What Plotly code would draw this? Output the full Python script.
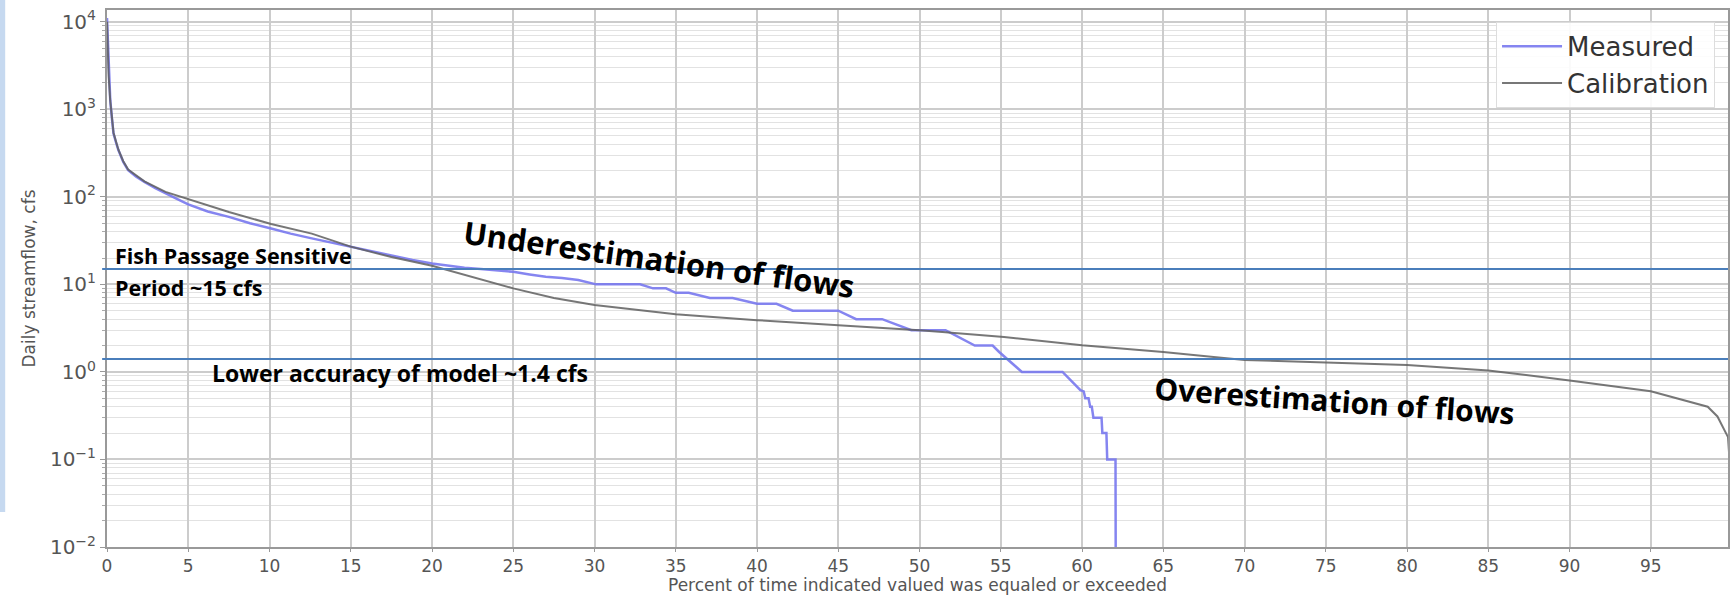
import plotly.graph_objects as go

# Flow-duration data: percent of time exceeded vs daily streamflow (cfs)
pct_measured = [0, 0.05, 0.1, 0.2, 0.3, 0.4, 0.55, 0.7, 1.0, 1.3, 1.8, 2.3, 3.0, 3.6,
                4.3, 5.0, 6.2, 7.5, 8.8, 10.1, 11.3, 12.6, 13.8, 15.0, 16.3, 17.5, 18.8,
                20.0, 21.0, 22.0, 23.0, 24.0, 25.0, 26.0, 27.0, 28.0, 29.0, 30.1, 32.8,
                33.6, 34.4, 35.0, 35.8, 37.1, 38.5, 40.0, 41.2, 42.2, 45.0, 46.1, 47.7,
                49.5, 51.6, 53.4, 54.5, 54.9, 55.9, 56.3, 58.8, 59.4, 59.9, 60.1, 60.2,
                60.4, 60.5, 60.6, 60.7, 61.2, 61.25, 61.5, 61.55, 62.06, 62.07]
flow_measured = [11000, 6000, 2500, 1270, 800, 530, 420, 342, 250, 202, 170, 148, 125, 109,
                 95, 82, 68, 59, 50, 43.5, 38, 33.5, 30, 26.8, 23.5, 21, 19,
                 17.3, 16.3, 15.5, 15, 14.5, 13.9, 13, 12.2, 11.8, 11.2, 10, 10,
                 9, 9, 8, 8, 7, 7, 6, 6, 5, 5, 4, 4,
                 3, 3, 2, 2, 1.69, 1.14, 1, 1, 0.77, 0.62, 0.6, 0.5,
                 0.5, 0.4, 0.4, 0.3, 0.3, 0.2, 0.2, 0.1, 0.1, 0.01]

pct_calibration = [0, 0.05, 0.1, 0.2, 0.4, 0.7, 1.0, 1.3, 2.3, 3.6, 5.0, 7.5, 10.1, 12.6,
                   15.0, 17.5, 20.0, 22.5, 25.0, 27.5, 30.0, 35.0, 40.0, 45.0, 48.7, 50.0,
                   51.4, 55.2, 60.0, 65.0, 68.1, 70, 75, 80, 85, 90, 95, 98.5, 99.1,
                   99.75, 99.95]
flow_calibration = [10000, 5000, 2400, 1250, 540, 345, 255, 205, 150, 114, 94, 67, 49, 38,
                    27, 20.5, 16.3, 12, 9.0, 7.0, 5.8, 4.56, 3.9, 3.42, 3.15, 3.0,
                    2.86, 2.51, 2.02, 1.69, 1.48, 1.37, 1.28, 1.20, 1.04, 0.80, 0.60, 0.40, 0.31,
                    0.18, 0.05]

x_tick_vals = [0, 5, 10, 15, 20, 25, 30, 35, 40, 45, 50, 55, 60, 65, 70, 75, 80, 85, 90, 95]
y_tick_vals = [0.01, 0.1, 1, 10, 100, 1000, 10000]
y_tick_text = ["10<sup>−2</sup>", "10<sup>−1</sup>", "10<sup>0</sup>", "10<sup>1</sup>",
               "10<sup>2</sup>", "10<sup>3</sup>", "10<sup>4</sup>"]

# Reference flow thresholds (cfs)
fish_passage_cfs = 15
low_accuracy_cfs = 1.4

GREY_TEXT = "#555555"
NOTE_FONT = "'Open Sans', Lato, sans-serif"

fig = go.Figure()
fig.add_trace(go.Scatter(
    x=pct_measured, y=flow_measured, mode="lines", name="Measured",
    legendgroup="m", line=dict(color="rgba(120,120,238,0.9)", width=2.5),
))
fig.add_trace(go.Scatter(
    x=pct_calibration, y=flow_calibration, mode="lines", name="Calibration",
    legendgroup="c", line=dict(color="rgba(95,95,95,0.85)", width=2),
))

# Threshold lines
for level in (fish_passage_cfs, low_accuracy_cfs):
    fig.add_shape(type="line", xref="paper", yref="y", x0=-0.003, x1=1.0,
                  y0=level, y1=level, line=dict(color="#4a7ebb", width=2), layer="above")

# Slide accent strip on the far left
fig.add_shape(type="rect", xref="paper", yref="paper", x0=-0.066, x1=-0.0628,
              y0=0.065, y1=1.02, fillcolor="#c6d9f0", line=dict(width=0), layer="above")

notes = [
    dict(text="<b>Fish Passage Sensitive</b>", x=0.0037, y=0.542, size=21.5, angle=0, xa="left"),
    dict(text="<b>Period ~15 cfs</b>", x=0.0037, y=0.484, size=21.5, angle=0, xa="left"),
    dict(text="<b>Lower accuracy of model ~1.4 cfs</b>", x=0.0635, y=0.324, size=23, angle=0, xa="left"),
    dict(text="<b>Underestimation of flows</b>", x=0.3407, y=0.536, size=31, angle=8, xa="center"),
    dict(text="<b>Overestimation of flows</b>", x=0.757, y=0.272, size=30, angle=4, xa="center"),
]
for n in notes:
    fig.add_annotation(text=n["text"], xref="paper", yref="paper", x=n["x"], y=n["y"],
                       xanchor=n["xa"], yanchor="middle", showarrow=False,
                       textangle=n["angle"],
                       font=dict(family=NOTE_FONT, size=n["size"], color="black"))

# x-axis title, set just under the tick labels
fig.add_annotation(text="Percent of time indicated valued was equaled or exceeded",
                   xref="paper", yref="paper", x=0.5, y=-0.0708, xanchor="center",
                   yanchor="middle", showarrow=False,
                   font=dict(family="DejaVu Sans", size=17, color=GREY_TEXT))

fig.update_xaxes(
    range=[0, 99.75], tickvals=x_tick_vals, ticks="outside", ticklen=3,
    tickcolor="#999999", tickfont=dict(family="DejaVu Sans", size=17, color=GREY_TEXT),
    showgrid=True, gridcolor="#cccccc", gridwidth=1.5,
    showline=True, linecolor="#999999", linewidth=2, mirror=True, zeroline=False,
)
fig.update_yaxes(
    type="log", range=[-2, 4.134], tickvals=y_tick_vals, ticktext=y_tick_text,
    ticks="outside", ticklen=5, tickcolor="#999999",
    tickfont=dict(family="DejaVu Sans", size=20, color=GREY_TEXT),
    showgrid=True, gridcolor="#cccccc", gridwidth=1.5,
    minor=dict(showgrid=True, gridcolor="#e2e2e2", gridwidth=1, ticks="outside",
               ticklen=3, tickcolor="#aaaaaa", dtick="D1"),
    showline=True, linecolor="#999999", linewidth=2, mirror=True, zeroline=False,
    title=dict(text="Daily streamflow, cfs",
               font=dict(family="DejaVu Sans", size=17, color=GREY_TEXT), standoff=10),
)

fig.update_layout(
    width=1730, height=597,
    margin=dict(l=107, r=0, t=10, b=50),
    paper_bgcolor="white", plot_bgcolor="white",
    showlegend=True,
    legend=dict(x=0.992, y=0.978, xanchor="right", yanchor="top",
                bgcolor="rgba(255,255,255,0.9)", bordercolor="#dddddd", borderwidth=1,
                font=dict(family="DejaVu Sans", size=26, color="#333333"),
                itemwidth=60, tracegroupgap=0),
)

fig.write_html("out.html")
